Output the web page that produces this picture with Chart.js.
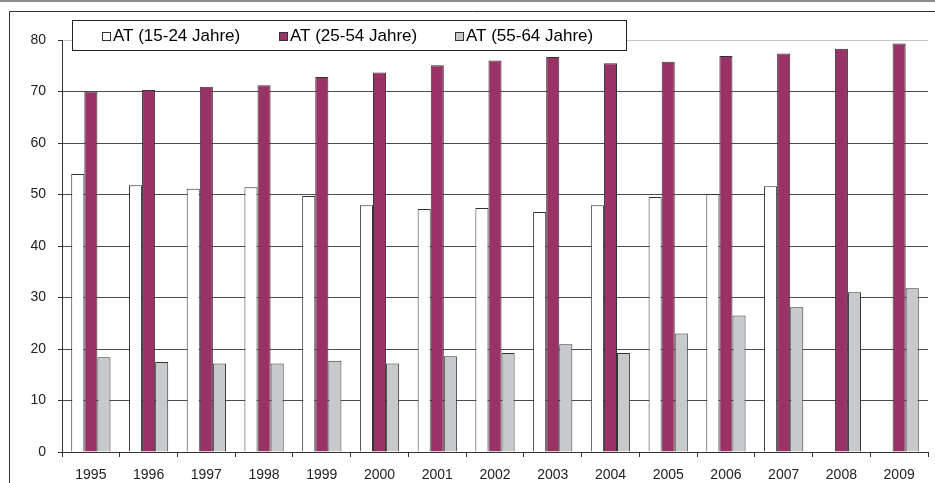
<!DOCTYPE html>
<html>
<head>
<meta charset="utf-8">
<script src="https://cdn.jsdelivr.net/npm/chart.js@4.4.1/dist/chart.umd.min.js"></script>
<style>
  body { margin: 0; background: #fff; }
  canvas { display: block; }
</style>
</head>
<body>
<canvas id="myChart" width="935" height="483"></canvas>
<script>
// data
var years = ["1995", "1996", "1997", "1998", "1999", "2000", "2001", "2002",
  "2003", "2004", "2005", "2006", "2007", "2008", "2009"];
var seriesNames = ["AT (15-24 Jahre)", "AT (25-54 Jahre)", "AT (55-64 Jahre)"];
var young = [54.0, 51.8, 51.1, 51.4, 49.7, 47.9, 47.2, 47.4, 46.6, 47.9, 49.5, 50.1, 51.6, null, null];
var middle = [70.0, 70.3, 70.9, 71.2, 72.8, 73.7, 75.1, 76.0, 76.7, 75.5, 75.8, 76.9, 77.4, 78.3, 79.3];
var older = [18.4, 17.5, 17.2, 17.2, 17.7, 17.2, 18.6, 19.2, 20.9, 19.2, 23.0, 26.5, 28.1, 31.0, 31.8];
var yMin = 0, yMax = 80, yStep = 10;

var FONT = "'Liberation Sans', Arial, sans-serif";
var colors = ["#ffffff", "#993366", "#c8c9cb"];

// white background + the outer frame lines
var framePlugin = {
  id: "frame",
  beforeDraw: function(chart) {
    var c = chart.ctx;
    c.save();
    c.fillStyle = "#fff";
    c.fillRect(0, 0, chart.width, chart.height);
    c.fillStyle = "#8c8c8c";
    c.fillRect(0, 0, chart.width, 2);
    c.strokeStyle = "#333";
    c.lineWidth = 1;
    c.beginPath();
    c.moveTo(chart.width, 11.5);
    c.lineTo(9.5, 11.5);
    c.lineTo(9.5, chart.height);
    c.stroke();
    c.restore();
  }
};

// boxed legend sitting over the top of the plot
var legendPlugin = {
  id: "boxLegend",
  afterDraw: function(chart) {
    var c = chart.ctx;
    var itemX = [102, 279, 455];
    c.save();
    c.fillStyle = "#fff";
    c.fillRect(72.5, 20.5, 554, 30);
    c.strokeStyle = "#222";
    c.lineWidth = 1;
    c.strokeRect(72.5, 20.5, 554, 30);
    c.font = "17px " + FONT;
    c.textBaseline = "middle";
    chart.data.datasets.forEach(function(ds, i) {
      c.fillStyle = ds.backgroundColor;
      c.fillRect(itemX[i] + 0.5, 32.5, 8, 8);
      c.strokeStyle = "#333";
      c.strokeRect(itemX[i] + 0.5, 32.5, 8, 8);
      c.fillStyle = "#000";
      c.fillText(ds.label, itemX[i] + 11, 36.5);
    });
    c.restore();
  }
};

window.onload = function() {
  var ctx = document.getElementById("myChart").getContext("2d");
  var chart = new Chart(ctx, {
    type: "bar",
    data: {
      labels: years,
      datasets: [
        { label: seriesNames[0], data: young, backgroundColor: colors[0], borderColor: "#333", borderWidth: 1 },
        { label: seriesNames[1], data: middle, backgroundColor: colors[1], borderColor: "#333", borderWidth: 1 },
        { label: seriesNames[2], data: older, backgroundColor: colors[2], borderColor: "#333", borderWidth: 1 }
      ]
    },
    options: {
      responsive: false,
      animation: false,
      devicePixelRatio: 1,
      layout: { padding: { left: 10, top: 40, right: 7, bottom: 0 } },
      datasets: { bar: { categoryPercentage: 0.68, barPercentage: 1.0 } },
      plugins: { legend: { display: false }, tooltip: { enabled: false } },
      scales: {
        x: {
          grid: { offset: true, drawOnChartArea: false, tickLength: 5, color: "#333" },
          border: { color: "#333" },
          ticks: { font: { family: FONT, size: 14 }, color: "#222", padding: 10, maxRotation: 0 },
          afterFit: function(s) { s.height = 31; }
        },
        y: {
          min: yMin,
          max: yMax,
          ticks: { stepSize: yStep, font: { family: FONT, size: 14 }, color: "#222", padding: 12 },
          grid: {
            color: function(c) { return c.tick && c.tick.value === yMax ? "#c8c8c8" : "#4d4d4d"; },
            tickColor: "#333",
            tickLength: 4
          },
          border: { color: "#333" },
          afterFit: function(s) { s.width = 52; }
        }
      }
    },
    plugins: [framePlugin, legendPlugin]
  });
};
</script>
</body>
</html>
